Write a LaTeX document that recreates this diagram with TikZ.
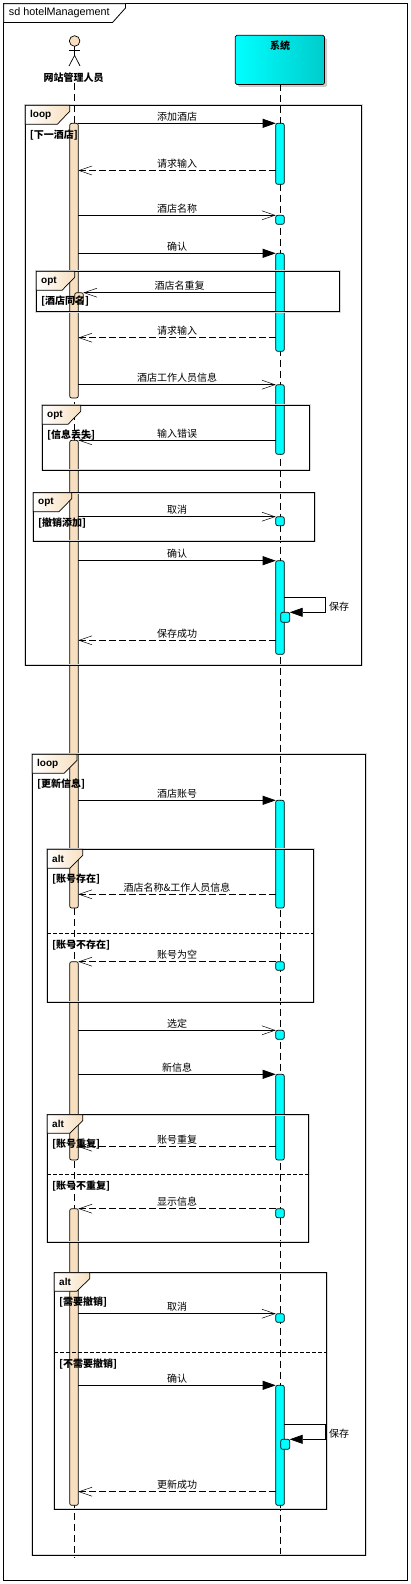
\documentclass[tikz,border=0pt]{standalone}
\usepackage{fontspec}
\setmainfont{Liberation Sans}
\newfontfamily\cjk{Noto Sans CJK SC}
\usetikzlibrary{arrows.meta,shadows}

\definecolor{actorfill}{HTML}{F7DFBF}
\definecolor{sysfill}{HTML}{00FFFF}
\definecolor{sysdark}{HTML}{00CCCC}

\tikzset{
	lifeline/.style={line width=.7pt,dash pattern=on 7pt off 4pt},
	actbar/.style={rectangle,rounded corners=2pt,draw,line width=.7pt,fill=actorfill,minimum width=8.6pt,inner sep=0,outer sep=0,anchor=north},
	sysbar/.style={actbar,fill=sysfill},
	sdframe/.style={line width=.8pt,preaction={draw=black!15,line width=2pt}},
	sdtab/.style={line width=.7pt,draw,left color=white,right color=actorfill},
	altline/.style={line width=.7pt,dash pattern=on 3.5pt off 2.5pt},
	callmsg/.style={line width=.7pt,-{Triangle[length=13pt,width=9pt]}},
	asyncmsg/.style={line width=.7pt,-{Straight Barb[length=13pt,width=9pt,line width=.5pt]}},
	replymsg/.style={asyncmsg,dash pattern=on 7pt off 3pt},
	msgtext/.style={font=\cjk\fontsize{10}{12}\selectfont,inner sep=0,yshift=7pt},
	selftext/.style={font=\cjk\fontsize{10}{12}\selectfont,inner sep=0},
	guardtext/.style={font=\cjk\bfseries\fontsize{10}{12}\selectfont,inner sep=0,anchor=west},
	tagtext/.style={font=\bfseries\fontsize{10}{12}\selectfont,inner sep=0,anchor=west},
}

\begin{document}
\begin{tikzpicture}[x=1pt,y=-1pt]
	\useasboundingbox (0,0) rectangle (411,1584);

	%outer frame
	\draw[line width=.8pt] (3.7,3.7) rectangle (407.5,1580);
	\draw[line width=.8pt,fill=white] (3.7,3.7)--(125.5,3.7)--(125.5,8)--(112.5,22.5)--(3.7,22.5)--cycle;
	\node[anchor=west,inner sep=0,font=\fontsize{10.8}{13}\selectfont] (titleText) at (8.7,12.7) {sd hotelManagement};

	%actor
	\node[circle,draw,line width=.7pt,fill=actorfill,minimum size=10.6pt,inner sep=0,outer sep=0] (actorHead) at (74.6,41) {};
	\draw[line width=.7pt] (actorHead.south)--++(0,9) coordinate (actorHip);
	\draw[line width=.7pt] (69,50.5)--(80,50.5);
	\draw[line width=.7pt] (69,66)--(actorHip)--(80,66);
	\node[guardtext,anchor=center] (actorName) at (73.5,77.5) {网站管理人员};

	%system
	\node[rectangle,rounded corners=1.5pt,draw,line width=.7pt,minimum width=89.2pt,minimum height=49.2pt,inner sep=0,outer sep=0,
		left color=sysfill,middle color=sysfill,right color=sysdark,
		drop shadow={shadow xshift=2.5pt,shadow yshift=-2.5pt,fill=black!20,opacity=1}] (sysHead) at (279.9,59.9) {};
	\node[guardtext,anchor=center] (sysName) at (280,45.5) {系统};

	%lifelines
	\coordinate (actorTop) at (74.6,83);
	\coordinate (actorEnd) at (74.6,1558);
	\coordinate (sysTop) at (280.2,84.5);
	\coordinate (sysEnd) at (280.2,1555);
	\draw[lifeline] (actorTop)--(actorEnd);
	\draw[lifeline] (sysTop)--(sysEnd);

	%actor bars
	\node[actbar,minimum height=274.7pt] (actA) at (74,123.3) {};
	\node[actbar,minimum height=10pt,minimum width=8.6pt] (actNest) at (79,292.7) {};
	\node[actbar,minimum height=467.7pt] (actB) at (74,440.3) {};
	\node[actbar,minimum height=198.3pt] (actC) at (74,961.7) {};
	\node[actbar,minimum height=296.6pt] (actD) at (74,1208.7) {};

	%system bars
	\node[sysbar,minimum height=61pt] (sysA) at (280,123.3) {};
	\node[sysbar,minimum height=9pt] (sysB) at (280,215.3) {};
	\node[sysbar,minimum height=98pt] (sysC) at (280,253.3) {};
	\node[sysbar,minimum height=69.6pt] (sysD) at (280,384.7) {};
	\node[sysbar,minimum height=9pt] (sysE) at (280,516.7) {};
	\node[sysbar,minimum height=93.6pt] (sysF) at (280,560.7) {};
	\node[sysbar,minimum height=10pt,minimum width=9pt] (selfA) at (285.2,612.3) {};
	\node[sysbar,minimum height=107.7pt] (sysG) at (280,800.3) {};
	\node[sysbar,minimum height=8.6pt] (sysH) at (280,961.7) {};
	\node[sysbar,minimum height=9pt] (sysI) at (280,1030.3) {};
	\node[sysbar,minimum height=85.7pt] (sysJ) at (280,1074.3) {};
	\node[sysbar,minimum height=9pt] (sysK) at (280,1208.7) {};
	\node[sysbar,minimum height=8.6pt] (sysL) at (280,1313.7) {};
	\node[sysbar,minimum height=120pt] (sysM) at (280,1385.3) {};
	\node[sysbar,minimum height=10pt,minimum width=9pt] (selfB) at (285.2,1439.3) {};

	%fragments - first loop
	\draw[sdframe] (25.3,105.3) rectangle (361.7,665.3);
	\draw[sdtab] (25.3,105.3)--(69.7,105.3)--(69.7,111.3)--(57.3,124.3)--(25.3,124.3)--cycle;
	\draw[sdframe] (36.3,271.3) rectangle (339.7,311.7);
	\draw[sdtab] (36.3,271.3)--(74.7,271.3)--(74.7,277.3)--(62,290.3)--(36.3,290.3)--cycle;
	\draw[sdframe] (42.3,405.3) rectangle (309.7,470.3);
	\draw[sdtab] (42.3,405.3)--(80.7,405.3)--(80.7,411.3)--(68,424.3)--(42.3,424.3)--cycle;
	\draw[sdframe] (33.3,492.7) rectangle (314.7,541.3);
	\draw[sdtab] (33.3,492.7)--(71.7,492.7)--(71.7,498.7)--(59,511.7)--(33.3,511.7)--cycle;

	%fragments - second loop
	\draw[sdframe] (32.3,754.3) rectangle (365.7,1555.3);
	\draw[sdtab] (32.3,754.3)--(77,754.3)--(77,760.3)--(64,773.3)--(32.3,773.3)--cycle;
	\draw[sdframe] (47.3,849.3) rectangle (313.7,1002);
	\draw[sdtab] (47.3,849.3)--(82.7,849.3)--(82.7,855.3)--(69.7,868.3)--(47.3,868.3)--cycle;
	\draw[altline] (47.3,933.7)--(313.7,933.7);
	\draw[sdframe] (47.3,1114.7) rectangle (308.7,1242);
	\draw[sdtab] (47.3,1114.7)--(82.7,1114.7)--(82.7,1120.7)--(69.7,1133.3)--(47.3,1133.3)--cycle;
	\draw[altline] (47.3,1174.7)--(308.7,1174.7);
	\draw[sdframe] (54.3,1272.7) rectangle (326.7,1509.3);
	\draw[sdtab] (54.3,1272.7)--(89.7,1272.7)--(89.7,1278.7)--(76.7,1291.3)--(54.3,1291.3)--cycle;
	\draw[altline] (54.3,1352.3)--(326.7,1352.3);

	%fragment tags
	\node[tagtext] (tagLoopA) at (30,115) {loop};
	\node[tagtext] (tagOptA) at (41,281) {opt};
	\node[tagtext] (tagOptB) at (47,415) {opt};
	\node[tagtext] (tagOptC) at (38,502) {opt};
	\node[tagtext] (tagLoopB) at (37,764) {loop};
	\node[tagtext] (tagAltA) at (52,858.5) {alt};
	\node[tagtext] (tagAltB) at (52,1124) {alt};
	\node[tagtext] (tagAltC) at (59,1282) {alt};

	%messages - first loop
	\coordinate (askA) at (0,170.5);
	\coordinate (askB) at (0,337.7);
	\coordinate (saveA) at (0,640.3);
	\draw[callmsg] (actA.east|-sysA.north)-- node[msgtext] (msgAddHotel) {添加酒店} (sysA.north west);
	\draw[replymsg] (sysA.west|-askA)-- node[msgtext] (msgAskA) {请求输入} (actA.east|-askA);
	\draw[asyncmsg] (actA.east|-sysB.north)-- node[msgtext] (msgName) {酒店名称} (sysB.north west);
	\draw[callmsg] (actA.east|-sysC.north)-- node[msgtext] (msgOkA) {确认} (sysC.north west);
	\draw[asyncmsg] (sysC.west|-actNest.north)-- node[msgtext] (msgDup) {酒店名重复} (actNest.north east);
	\draw[replymsg] (sysC.west|-askB)-- node[msgtext] (msgAskB) {请求输入} (actA.east|-askB);
	\draw[asyncmsg] (actA.east|-sysD.north)-- node[msgtext] (msgStaff) {酒店工作人员信息} (sysD.north west);
	\draw[asyncmsg] (sysD.west|-actB.north)-- node[msgtext] (msgWrong) {输入错误} (actB.north east);
	\draw[asyncmsg] (actB.east|-sysE.north)-- node[msgtext] (msgCancelA) {取消} (sysE.north west);
	\draw[callmsg] (actB.east|-sysF.north)-- node[msgtext] (msgOkB) {确认} (sysF.north west);
	\coordinate (selfTurnA) at (325.3,597.3);
	\draw[line width=.7pt] (sysF.east|-selfTurnA)--(selfTurnA);
	\draw[callmsg] (selfTurnA)|-(selfA.north east);
	\node[selftext] (msgSaveA) at (339,606.7) {保存};
	\draw[replymsg] (sysF.west|-saveA)-- node[msgtext] (msgSaveOk) {保存成功} (actB.east|-saveA);

	%messages - second loop
	\coordinate (infoA) at (0,894.3);
	\coordinate (dupB) at (0,1146.7);
	\coordinate (doneB) at (0,1491.7);
	\draw[callmsg] (actB.east|-sysG.north)-- node[msgtext] (msgAccount) {酒店账号} (sysG.north west);
	\draw[replymsg] (sysG.west|-infoA)-- node[msgtext] (msgInfo) {酒店名称\&工作人员信息} (actB.east|-infoA);
	\draw[replymsg] (sysH.north west)-- node[msgtext] (msgEmpty) {账号为空} (actC.north east);
	\draw[asyncmsg] (actC.east|-sysI.north)-- node[msgtext] (msgPick) {选定} (sysI.north west);
	\draw[callmsg] (actC.east|-sysJ.north)-- node[msgtext] (msgNew) {新信息} (sysJ.north west);
	\draw[replymsg] (sysJ.west|-dupB)-- node[msgtext] (msgDupB) {账号重复} (actC.east|-dupB);
	\draw[replymsg] (sysK.north west)-- node[msgtext] (msgShow) {显示信息} (actD.north east);
	\draw[asyncmsg] (actD.east|-sysL.north)-- node[msgtext] (msgCancelB) {取消} (sysL.north west);
	\draw[callmsg] (actD.east|-sysM.north)-- node[msgtext] (msgOkC) {确认} (sysM.north west);
	\coordinate (selfTurnB) at (325.3,1424.3);
	\draw[line width=.7pt] (sysM.east|-selfTurnB)--(selfTurnB);
	\draw[callmsg] (selfTurnB)|-(selfB.north east);
	\node[selftext] (msgSaveB) at (339,1433.7) {保存};
	\draw[replymsg] (sysM.west|-doneB)-- node[msgtext] (msgDone) {更新成功} (actD.east|-doneB);

	%guards
	\node[guardtext] (guardLoopA) at (29.7,135.5) {[下一酒店]};
	\node[guardtext] (guardOptA) at (41,301.5) {[酒店同名]};
	\node[guardtext] (guardOptB) at (47,435) {[信息丢失]};
	\node[guardtext] (guardOptC) at (38,522.7) {[撤销添加]};
	\node[guardtext] (guardLoopB) at (37,784.5) {[更新信息]};
	\node[guardtext] (guardAltA) at (52,879.3) {[账号存在]};
	\node[guardtext] (guardAltB) at (52,945.3) {[账号不存在]};
	\node[guardtext] (guardAltC) at (52,1144.3) {[账号重复]};
	\node[guardtext] (guardAltD) at (52,1186) {[账号不重复]};
	\node[guardtext] (guardAltE) at (59,1302.5) {[需要撤销]};
	\node[guardtext] (guardAltF) at (59,1364.3) {[不需要撤销]};
\end{tikzpicture}
\end{document}
